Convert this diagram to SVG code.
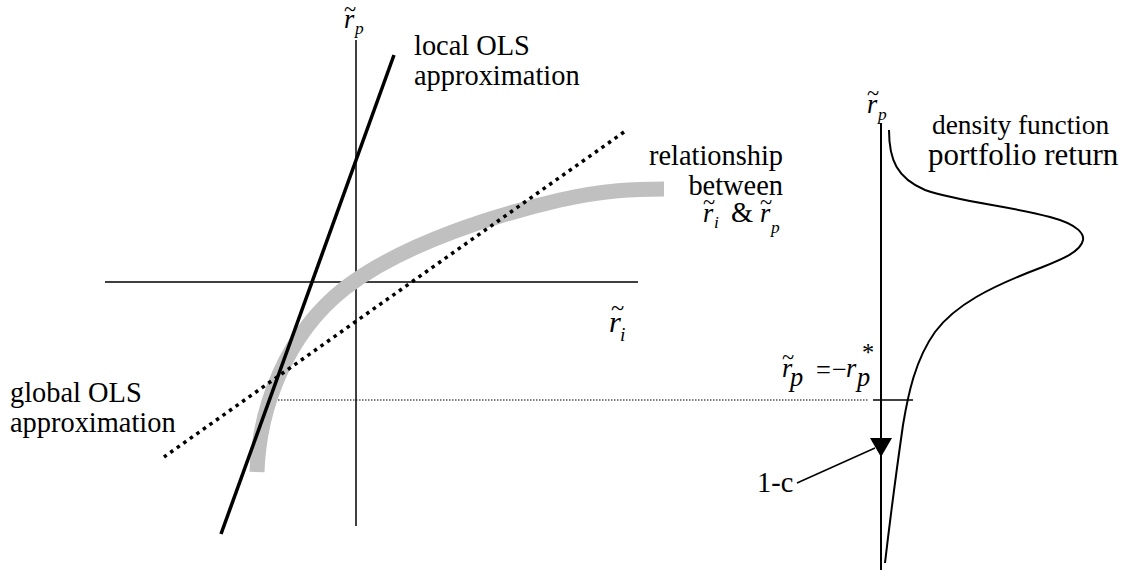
<svg xmlns="http://www.w3.org/2000/svg" width="1133" height="576" viewBox="0 0 1133 576">
<rect width="1133" height="576" fill="#fff"/>
<g id="left-axes" stroke="#000" stroke-width="1.5" fill="none">
<line x1="356" y1="40" x2="356" y2="526"/>
<line x1="105" y1="282" x2="638" y2="282"/>
</g>
<g id="connectors" fill="none">
<path id="relationship-curve" d="M257,472 C259,410 285,335 345,288 C405,242 500,214 560,200 C605,190 635,189 664,189" stroke="#c0c0c0" stroke-width="15"/>
<line id="local-ols" x1="394" y1="55" x2="221" y2="534" stroke="#000" stroke-width="3.5"/>
<line id="global-ols" x1="624" y1="132" x2="164" y2="457" stroke="#000" stroke-width="3.5" stroke-dasharray="3.5 4.5"/>
<line id="threshold" x1="278" y1="400" x2="868" y2="400" stroke="#000" stroke-width="1" stroke-dasharray="1.5 1.5"/>
<line x1="873" y1="400" x2="913" y2="400" stroke="#000" stroke-width="1.5"/>
<line id="onec-leader" x1="797" y1="483" x2="875" y2="448" stroke="#000" stroke-width="1.5"/>
</g>
<g id="right-axis">
<line x1="881" y1="123" x2="881" y2="570" stroke="#000" stroke-width="2"/>
<polygon points="870,438 892,438 881,457" fill="#000"/>
<path id="density" d="M889,130 C889,160 897,178 925,190 C960,202 1010,206 1050,217 C1080,225 1084,235 1083,240 C1081,252 1060,260 1040,268 C990,287 955,305 935,332 C915,360 908,395 903,425 C898,460 890,520 885,563" fill="none" stroke="#000" stroke-width="2"/>
</g>
<g id="label-rp-left">
<text x="344" y="28" font-family="Liberation Serif" font-style="italic" font-size="26.4">r<tspan x="344" y="17" font-family="Liberation Serif" font-style="normal" font-size="22.4">~</tspan><tspan x="355" y="34" font-family="Liberation Serif" font-style="italic" font-size="17.4">p</tspan></text>
</g>
<g id="label-local">
<text x="414" y="55" font-family="Liberation Serif" font-size="28.4">local OLS</text>
<text x="414" y="85" font-family="Liberation Serif" font-size="28.4">approximation</text>
</g>
<g id="label-relationship">
<text x="783" y="165" text-anchor="end" font-family="Liberation Serif" font-size="28.4">relationship</text>
<text x="783" y="195" text-anchor="end" font-family="Liberation Serif" font-size="28.4">between</text>
<text x="703" y="222" font-family="Liberation Serif" font-style="italic" font-size="26.4">r<tspan x="703" y="210" font-family="Liberation Serif" font-style="normal" font-size="22.4">~</tspan><tspan x="714" y="228" font-family="Liberation Serif" font-style="italic" font-size="17.4">i</tspan><tspan x="731" y="222" font-family="Liberation Serif" font-style="normal" font-size="28.4">&amp;</tspan><tspan x="760" y="222" font-family="Liberation Serif" font-style="italic" font-size="26.4">r</tspan><tspan x="760" y="210" font-family="Liberation Serif" font-style="normal" font-size="22.4">~</tspan><tspan x="771" y="233" font-family="Liberation Serif" font-style="italic" font-size="17.4">p</tspan></text>
</g>
<g id="label-ri">
<text x="609" y="332" font-family="Liberation Serif" font-style="italic" font-size="30.4">r<tspan x="611" y="316" font-family="Liberation Serif" font-style="normal" font-size="24.4">~</tspan><tspan x="620" y="341" font-family="Liberation Serif" font-style="italic" font-size="19.4">i</tspan></text>
</g>
<g id="label-global">
<text x="10" y="402" font-family="Liberation Serif" font-size="28.4">global OLS</text>
<text x="10" y="432" font-family="Liberation Serif" font-size="28.4">approximation</text>
</g>
<g id="label-rp-right">
<text x="867" y="113" font-family="Liberation Serif" font-style="italic" font-size="26.4">r<tspan x="867" y="101" font-family="Liberation Serif" font-style="normal" font-size="22.4">~</tspan><tspan x="878" y="120" font-family="Liberation Serif" font-style="italic" font-size="17.4">p</tspan></text>
</g>
<g id="label-density">
<text x="932" y="134" font-family="Liberation Serif" font-size="27.4">density function</text>
<text x="928" y="165" font-family="Liberation Serif" font-size="31">portfolio return</text>
</g>
<g id="label-threshold">
<text x="782" y="377" font-family="Liberation Serif" font-style="italic" font-size="26.4">r<tspan x="782" y="365" font-family="Liberation Serif" font-style="normal" font-size="22.4">~</tspan><tspan x="790" y="386" font-family="Liberation Serif" font-style="italic" font-size="26.4">p</tspan><tspan x="816" y="379" font-family="Liberation Serif" font-style="normal" font-size="26.4">=</tspan><tspan x="832" y="378" font-family="Liberation Serif" font-style="normal" font-size="26.4">−</tspan><tspan x="846" y="377" font-family="Liberation Serif" font-style="italic" font-size="26.4">r</tspan><tspan x="857" y="386" font-family="Liberation Serif" font-style="italic" font-size="26.4">p</tspan><tspan x="862" y="361" font-family="Liberation Serif" font-style="normal" font-size="24.4">*</tspan></text>
</g>
<g id="label-1c">
<text x="757" y="492" font-family="Liberation Serif" font-size="28.4">1-c</text>
</g>
</svg>
